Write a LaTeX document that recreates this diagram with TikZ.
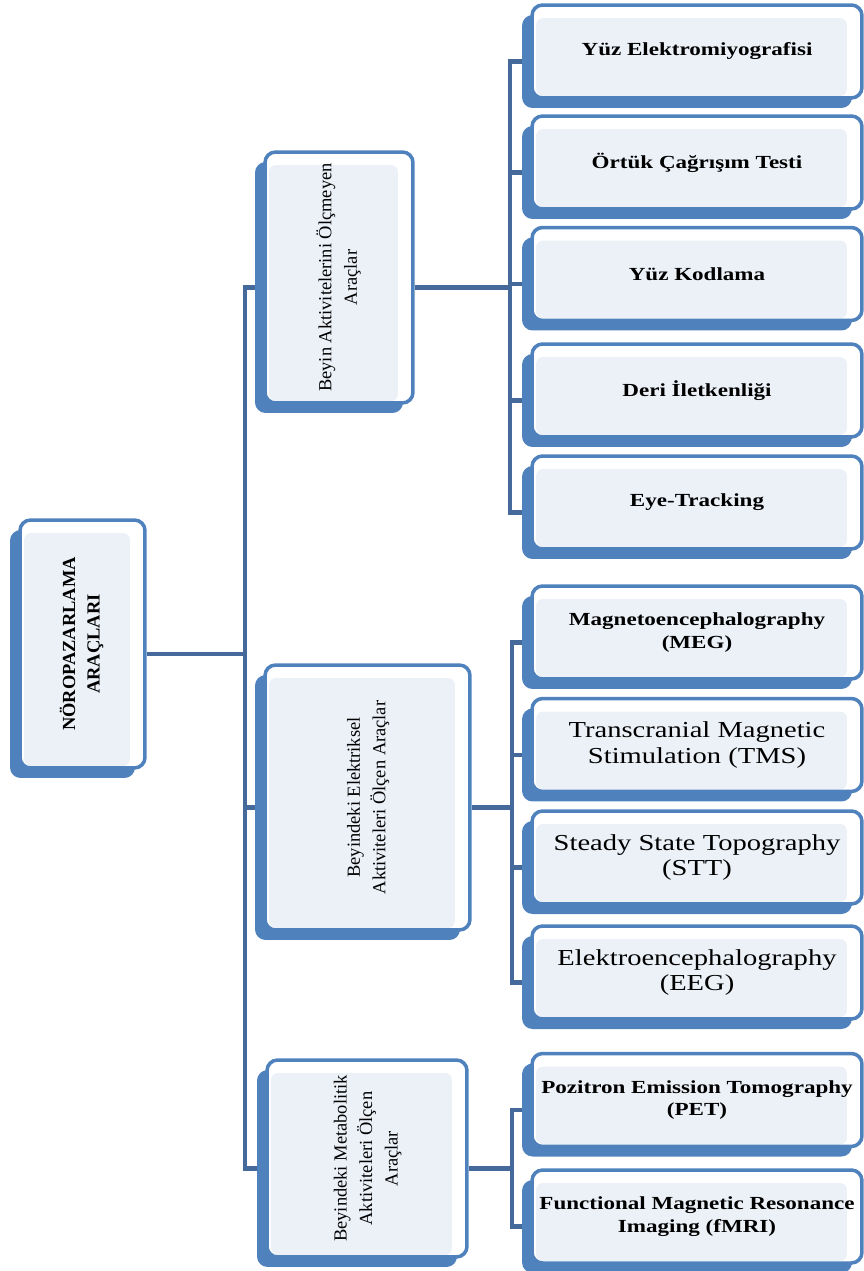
\documentclass[tikz,border=0pt]{standalone}
\usepackage{fontspec}
\usepackage{graphicx}
\setmainfont{Liberation Serif}
\newfontfamily\widefont[FakeStretch=1.25]{Liberation Serif}
\usetikzlibrary{shadows,backgrounds}

\definecolor{boxblue}{HTML}{4F81BD}
\definecolor{linkblue}{HTML}{46699C}
\definecolor{boxfill}{HTML}{ECF1F8}

\newcommand{\turned}[1]{\rotatebox{90}{\begin{tabular}{c}#1\end{tabular}}}

\tikzset{
	box/.style={draw=boxblue, line width=2pt, fill=white, rounded corners=6pt,
		general shadow={fill=boxblue, shadow xshift=-0.2cm, shadow yshift=-0.2cm},
		path picture={\fill[boxfill, rounded corners=4pt]
			([shift={(0.08cm,-0.26cm)}]path picture bounding box.north west) rectangle
			([shift={(-0.3cm,0.04cm)}]path picture bounding box.south east);},
		inner sep=0pt, align=center},
	tool/.style={box, minimum width=6.6cm, minimum height=1.86cm},
	toolbold/.style={tool, font=\widefont\bfseries\fontsize{10.5}{13}\selectfont},
	toolwide/.style={tool, font=\widefont\fontsize{13}{14.5}\selectfont},
	group/.style={box, font=\fontsize{10.5}{14.5}\selectfont},
	link/.style={draw=linkblue, line width=2.3pt},
}

\begin{document}
\begin{tikzpicture}[x=0.02cm, y=-0.02cm]
	\useasboundingbox (0,0) rectangle (863,1271);
	
	% root
	\node[box, minimum width=2.5cm, minimum height=4.96cm, font=\bfseries\fontsize{10.5}{14}\selectfont]
		(root) at (82.5,644) {\turned{NÖROPAZARLAMA\\ARAÇLARI}};
	
	% groups
	\node[group, minimum width=2.96cm, minimum height=5.02cm] (l1) at (339,277.5)
		{\turned{Beyin Aktivitelerini Ölçmeyen\\Araçlar}};
	\node[group, minimum width=4.1cm, minimum height=5.3cm] (l2) at (367.5,797.5)
		{\turned{Beyindeki Elektriksel\\Aktiviteleri Ölçen Araçlar}};
	\node[group, minimum width=4cm, minimum height=3.94cm] (l3) at (367,1158.5)
		{\turned{Beyindeki Metabolitik\\Aktiviteleri Ölçen\\Araçlar}};
	
	% tools
	\node[toolbold] (r1) at (697,51.5) {Yüz Elektromiyografisi};
	\node[toolbold] (r2) at (697,162.5) {Örtük Çağrışım Testi};
	\node[toolbold] (r3) at (697,274) {Yüz Kodlama};
	\node[toolbold] (r4) at (697,390.5) {Deri İletkenliği};
	\node[toolbold] (r5) at (697,502.5) {Eye-Tracking};
	
	\node[toolbold] (m1) at (697,632.5) {Magnetoencephalography\\(MEG)};
	\node[toolwide] (m2) at (697,745) {Transcranial Magnetic\\Stimulation (TMS)};
	\node[toolwide] (m3) at (697,857.5) {Steady State Topography\\(STT)};
	\node[toolwide] (m4) at (697,972.5) {Elektroencephalography\\(EEG)};
	
	\node[toolbold] (p1) at (697,1100) {Pozitron Emission Tomography\\(PET)};
	\node[toolbold] (p2) at (697,1216.5) {Functional Magnetic Resonance\\Imaging (fMRI)};
	
	% connectors meet the boxes a little below their middle
	\foreach \n in {root,l1,l2,l3,r1,r2,r3,r4,r5,m1,m2,m3,m4,p1,p2} {
		\coordinate (\n-w) at ([yshift=-0.2cm]\n.west);
		\coordinate (\n-e) at ([yshift=-0.2cm]\n.east);
	}
	
	\begin{scope}[on background layer]
		\draw[link] (root-e) -- ++(98,0) coordinate (hub);
		\draw[link] (l1-w) -| (hub) |- (l3-w);
		\draw[link] (hub |- l2-w) -- (l2-w);
		
		\draw[link] (l1-e) -- ++(95,0) coordinate (hub1);
		\draw[link] (r1-w) -| (hub1) |- (r5-w);
		\foreach \n in {r2,r3,r4}
			\draw[link] (hub1 |- \n-w) -- (\n-w);
		
		\draw[link] (l2-e) -- ++(40,0) coordinate (hub2);
		\draw[link] (m1-w) -| (hub2) |- (m4-w);
		\foreach \n in {m2,m3}
			\draw[link] (hub2 |- \n-w) -- (\n-w);
		
		\draw[link] (l3-e) -- ++(43,0) coordinate (hub3);
		\draw[link] (p1-w) -| (hub3) |- (p2-w);
	\end{scope}
\end{tikzpicture}
\end{document}
